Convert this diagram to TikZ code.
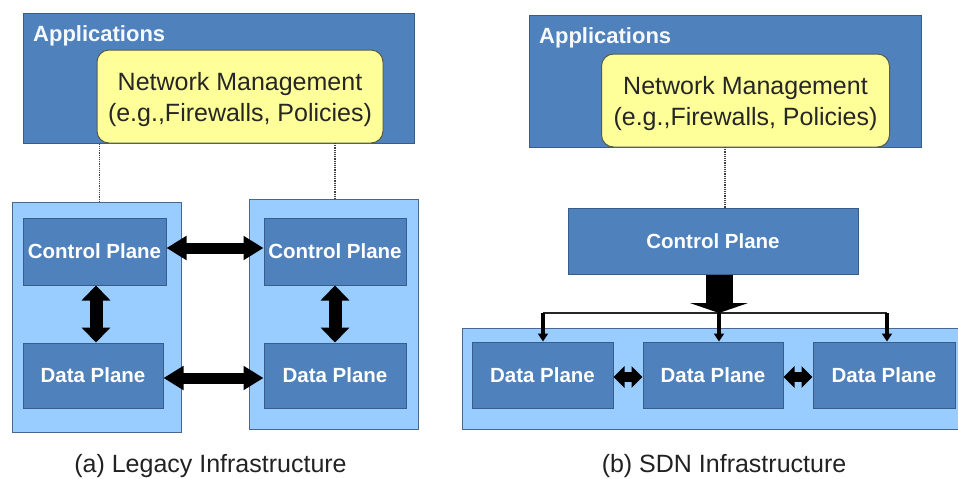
\documentclass[tikz,border=0pt]{standalone}
\usepackage{fontspec}
\setmainfont{Liberation Sans}
\usetikzlibrary{arrows.meta}
\definecolor{appblue}{HTML}{4F81BD}
\definecolor{appedge}{HTML}{385D8A}
\definecolor{lightblue}{HTML}{99CCFF}
\definecolor{lightedge}{HTML}{4A6790}
\definecolor{nmyellow}{HTML}{FFFF99}
\definecolor{nmedge}{HTML}{5A5A4A}
\definecolor{captxt}{HTML}{222222}
\tikzset{
  box/.style={rectangle, inner sep=0pt, line width=1pt},
  appsbox/.style={box, fill=appblue, draw=appedge},
  panelbox/.style={box, fill=lightblue, draw=lightedge},
  planebox/.style={box, fill=appblue, draw=appedge, text=white,
    font=\bfseries\fontsize{20.5}{24}\selectfont},
  nmbox/.style={box, fill=nmyellow, draw=nmedge, rounded corners=12pt},
  nmtext/.style={inner sep=0pt, align=center, text=black!85,
    font=\fontsize{25}{31}\selectfont},
  apptext/.style={inner sep=0pt, anchor=base west, text=white!95!appblue,
    font=\bfseries\fontsize{22}{26}\selectfont},
  captext/.style={inner sep=0pt, anchor=base, text=captxt,
    font=\fontsize{25}{30}\selectfont},
  dotline/.style={dash pattern=on 1.2pt off 1pt, line width=1.3pt, black!75},
  fatarrow/.style={line width=11pt,
    {Triangle[width=23pt,length=20pt]}-{Triangle[width=23pt,length=20pt]}},
  vfatarrow/.style={line width=13pt,
    {Triangle[width=28pt,length=15pt]}-{Triangle[width=28pt,length=15pt]}},
  dparrow/.style={line width=10pt,
    {Triangle[width=21pt,length=11pt]}-{Triangle[width=21pt,length=11pt]}},
  bigdown/.style={line width=27pt, -{Triangle[width=58pt,length=10pt]}},
  smalldown/.style={line width=3.5pt, -{Triangle[width=10pt,length=8pt]}},
  busline/.style={line width=1.8pt, black!85},
}
\begin{document}
\begin{tikzpicture}[x=1pt,y=-1pt]
\useasboundingbox[fill=white] (0,0) rectangle (958,479);

% ---------- (a) Legacy ----------
\node[appsbox, minimum width=391pt, minimum height=130pt] (appsL) at (218.5,78) {};
\node[apptext] (appsLtxt) at (33,41) {Applications};
\node[nmbox, minimum width=286pt, minimum height=93pt] (nmL) at (240,96.5) {};
\node[nmtext] (nmLtxt) at (240,100) {Network Management\\(e.g.,Firewalls, Policies)};

\node[panelbox, minimum width=169pt, minimum height=230pt] (outL) at (96.5,317) {};
\node[panelbox, minimum width=169pt, minimum height=230pt] (outR) at (333.5,314) {};

\coordinate (d1) at ([xshift=3pt]nmL.south west);
\coordinate (d2) at (335,143);
\draw[dotline] (d1) -- (d1 |- outL.north);
\draw[dotline] (d2) -- (d2 |- outR.north);

\node[planebox, minimum width=143pt, minimum height=67pt] (cpL) at (94.5,251.5) {Control Plane};
\node[planebox, minimum width=140pt, minimum height=65pt] (dpL) at (93,375.5) {Data Plane};
\node[planebox, minimum width=142pt, minimum height=67pt] (cpR) at (335,251.5) {Control Plane};
\node[planebox, minimum width=142pt, minimum height=65pt] (dpR) at (335,375.5) {Data Plane};

\draw[fatarrow] ([yshift=3.5pt]cpL.east) -- ([yshift=3.5pt]cpR.west);
\draw[fatarrow] ([yshift=-2.5pt]dpL.east) -- ([yshift=-2.5pt]dpR.west);
\draw[vfatarrow] ([xshift=1.5pt]cpL.south) -- ([xshift=1.5pt]cpL.south |- dpL.north);
\draw[vfatarrow] (cpR.south) -- (cpR.south |- dpR.north);

\node[captext] (capA) at (210.5,472) {(a) Legacy Infrastructure};

% ---------- (b) SDN ----------
\node[appsbox, minimum width=392pt, minimum height=132pt] (appsR) at (725,81) {};
\node[apptext] (appsRtxt) at (539,43) {Applications};
\node[nmbox, minimum width=288pt, minimum height=93pt] (nmR) at (745.5,100.5) {};
\node[nmtext] (nmRtxt) at (745.5,104) {Network Management\\(e.g.,Firewalls, Policies)};

\node[planebox, minimum width=290pt, minimum height=66pt] (cpS) at (713,241) {Control Plane};
\coordinate (d3) at (725,147);
\draw[dotline] (d3) -- (d3 |- cpS.north);

\node[panelbox, minimum width=500pt, minimum height=101pt, anchor=north west] (outS) at (462,328) {};

\node[planebox, minimum width=141pt, minimum height=66pt] (dpS1) at (542.5,375) {Data Plane};
\node[planebox, minimum width=140pt, minimum height=66pt] (dpS2) at (713,375) {Data Plane};
\node[planebox, minimum width=142pt, minimum height=66pt] (dpS3) at (884,375) {Data Plane};

\coordinate (busL) at (543,313);
\coordinate (busM) at (719,313);
\coordinate (busR) at (887,313);
\draw[busline] (busL) -- (busR);
\draw[bigdown] (busM |- cpS.south) -- (busM);
\draw[smalldown] (busL) -- (busL |- dpS1.north);
\draw[smalldown] (busM) -- (busM |- dpS2.north);
\draw[smalldown] (busR) -- (busR |- dpS3.north);

\draw[dparrow] ([yshift=-2pt]dpS1.east) -- ([yshift=-2pt]dpS2.west);
\draw[dparrow] ([yshift=-2pt]dpS2.east) -- ([yshift=-2pt]dpS3.west);

\node[captext] (capB) at (724,472) {(b) SDN Infrastructure};
\end{tikzpicture}
\end{document}
